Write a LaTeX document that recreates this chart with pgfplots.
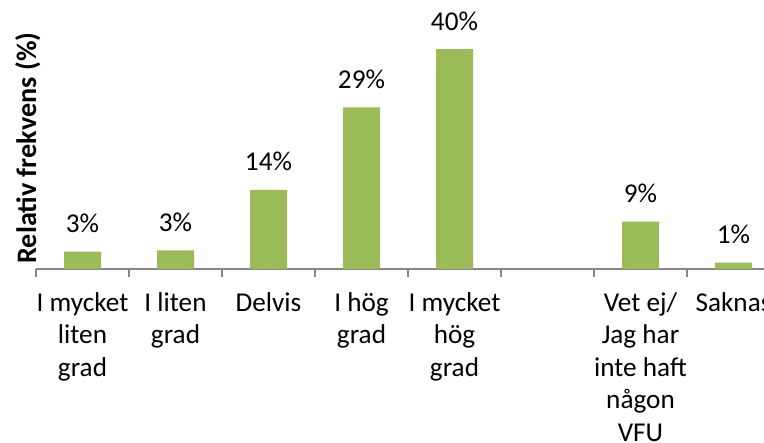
\documentclass[border=0pt]{standalone}
\usepackage{fontspec}
\setmainfont{Carlito}
\usepackage{pgfplots}
\pgfplotsset{compat=1.18}
\definecolor{barg}{HTML}{9BBB59}
\definecolor{axgray}{HTML}{868686}

\begin{document}
\begin{tikzpicture}
\begin{axis}[
  scale only axis,
  width=372pt, height=132pt,
  xmin=-0.5, xmax=7.5, ymin=0, ymax=48,
  axis x line*=bottom, axis y line*=left,
  x axis line style={axgray, line width=0.6pt},
  y axis line style={draw=none},
  ytick=\empty,
  xtick={0,...,7},
  xticklabels={{I mycket\\liten\\grad},{I liten\\grad},Delvis,{I hög\\grad},{I mycket\\hög\\grad},{},{Vet ej/\\Jag har\\inte haft\\någon\\VFU},Saknas},
  major x tick style={draw=none},
  minor xtick={-0.5,0.5,...,7.5},
  minor x tick style={axgray, line width=0.6pt},
  minor tick length=4pt,
  tick align=outside,
  xticklabel style={align=center, font=\fontsize{13.6}{16.25}\selectfont, yshift=-3.8pt},
  ylabel={\textbf{Relativ frekvens (\%)}},
  ylabel style={at={(axis description cs:0.009,0.458)}, anchor=south, inner sep=1pt, font=\fontsize{14.1}{17}\selectfont},
  ybar, bar width=18.5pt,
  point meta=explicit symbolic,
  nodes near coords,
  every node near coord/.append style={font=\fontsize{13.6}{16}\selectfont, anchor=base, yshift=9.5pt},
  clip=false,
]
\addplot[fill=barg, draw=none] coordinates {
  (0,3.15) [3\%]
  (1,3.4) [3\%]
  (2,14.4) [14\%]
  (3,29.4) [29\%]
  (4,40) [40\%]
  (6,8.6) [9\%]
  (7,1.15) [1\%]
};
\end{axis}
\pgfresetboundingbox
\path[use as bounding box] (-18pt,-87pt) rectangle (364pt,134.5pt);
\end{tikzpicture}
\end{document}
